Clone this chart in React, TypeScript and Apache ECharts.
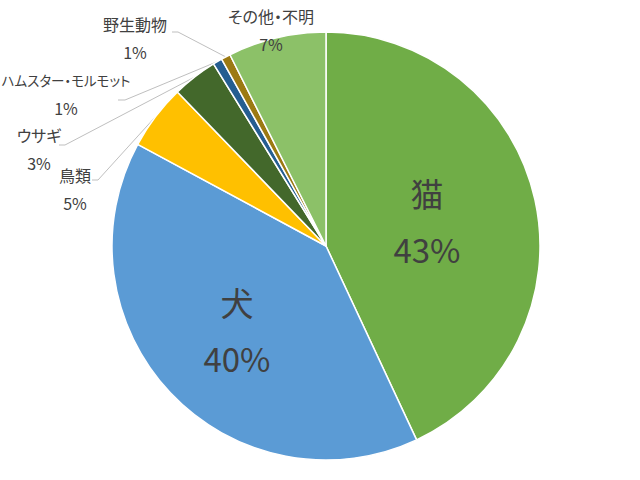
import React, { useEffect, useRef } from 'react';
import * as echarts from 'echarts';

const categories = ['猫', '犬', '鳥類', 'ウサギ', 'ハムスター・モルモット', '野生動物', 'その他・不明'];
const shares = [43.0, 39.8, 4.9, 3.4, 0.7, 0.7, 7.4];
const colors = ['#70AD47', '#5B9BD5', '#FFC000', '#43682B', '#255E91', '#9C7A13', '#8CC168'];
const insideLabels = ['猫', '犬'];
const unlinkedLabels = ['その他・不明'];
const narrowLabels = ['ハムスター・モルモット'];

// where each label sits, and where its leader line meets it
const labelSpots: Record<string, { x: number; y: number; tail?: number[][] }> = {
  '猫': { x: 427, y: 221 },
  '犬': { x: 237, y: 330 },
  '鳥類': { x: 75, y: 189, tail: [[98, 180], [92, 180]] },
  'ウサギ': { x: 39, y: 149, tail: [[65, 145], [59, 145]] },
  'ハムスター・モルモット': { x: 66, y: 94, tail: [[125, 100], [118, 100]] },
  '野生動物': { x: 135, y: 38, tail: [[178, 32], [172, 32]] },
  'その他・不明': { x: 271, y: 30 },
};

const FONT = '"Noto Sans CJK JP", "Noto Sans", sans-serif';

const App: React.FC = () => {
  const chartRef = useRef<HTMLDivElement>(null);

  useEffect(() => {
    if (!chartRef.current) return;
    const chart = echarts.init(chartRef.current, undefined, { renderer: 'svg' });

    const data = categories.map((name, i) => {
      const inside = insideLabels.includes(name);
      const size = inside ? 33 : 16;
      const lh = inside ? 56 : 28;
      const nameSize = narrowLabels.includes(name) ? 13.5 : size;
      return {
        name,
        value: shares[i],
        itemStyle: { color: colors[i] },
        label: {
          position: inside ? 'inside' : 'outside',
          fontSize: size,
          lineHeight: lh,
          color: '#404040',
          rich: {
            n: { fontSize: nameSize, lineHeight: lh, color: '#404040', fontFamily: FONT },
            v: { fontSize: size, lineHeight: lh, color: '#404040', fontFamily: FONT },
          },
        },
        labelLine: { show: !inside && !unlinkedLabels.includes(name) },
      };
    });

    const options: any = {
      animation: false,
      backgroundColor: '#ffffff',
      textStyle: { fontFamily: FONT },
      series: [
        {
          type: 'pie',
          center: [326, 246],
          radius: 214,
          startAngle: 90,
          clockwise: true,
          avoidLabelOverlap: false,
          itemStyle: { borderColor: '#ffffff', borderWidth: 1.5 },
          label: {
            fontFamily: FONT,
            formatter: (p: any) => `{n|${p.name}}\n{v|${Math.round(p.percent)}%}`,
          },
          labelLine: {
            lineStyle: { color: '#BFBFBF', width: 1 },
          },
          labelLayout: (p: any) => {
            const spot = labelSpots[categories[p.dataIndex]];
            if (!spot) return {};
            const out: any = { x: spot.x, y: spot.y, align: 'center', verticalAlign: 'middle' };
            if (spot.tail && p.labelLinePoints) {
              out.labelLinePoints = [p.labelLinePoints[0], ...spot.tail];
            }
            return out;
          },
          emphasis: { disabled: true },
          data,
        },
      ],
    };

    chart.setOption(options);
    return () => {
      chart.dispose();
    };
  }, []);

  return (
    <>
      <style>{'svg text{font-feature-settings:"palt" 1 !important;}'}</style>
      <div
        ref={chartRef}
        style={{ position: 'absolute', left: 0, top: 0, width: 640, height: 480 }}
      />
    </>
  );
};

export default App;
